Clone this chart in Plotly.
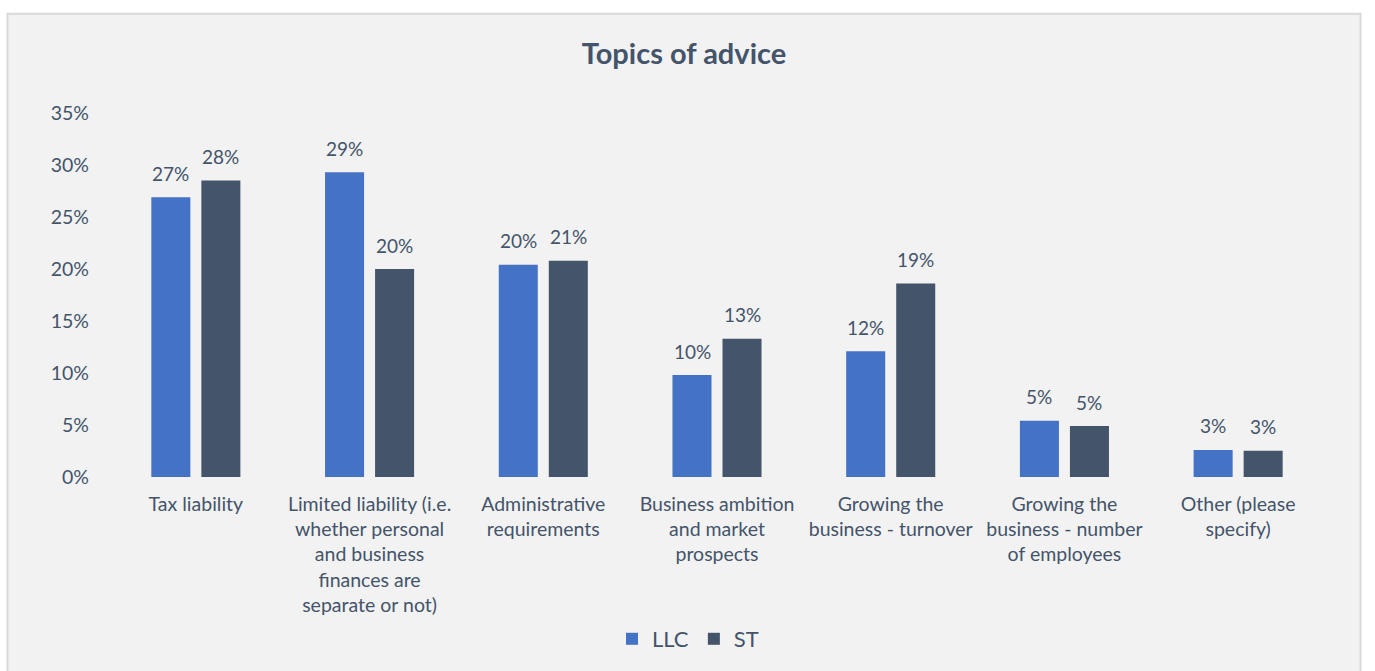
import plotly.graph_objects as go

categories = [
    "Tax liability",
    "Limited liability (i.e.<br>whether personal<br>and business<br>finances are<br>separate or not)",
    "Administrative<br>requirements",
    "Business ambition<br>and market<br>prospects",
    "Growing the<br>business - turnover",
    "Growing the<br>business - number<br>of employees",
    "Other (please<br>specify)",
]
llc = [0.269, 0.293, 0.204, 0.098, 0.121, 0.054, 0.026]
st = [0.285, 0.200, 0.208, 0.133, 0.186, 0.049, 0.0252]
y_ticks = [0, 0.05, 0.10, 0.15, 0.20, 0.25, 0.30, 0.35]

TEXT = "#44546a"
FONT = "Lato"
W, H = 1375, 671
ML, MR, MT, MB = 109, 50, 113, 193
PW, PH = W - ML - MR, H - MT - MB


def px_x(px):
    return (px - ML) / PW


def px_y(py):
    return (H - MB - py) / PH


fig = go.Figure()
fig.add_trace(go.Bar(name="LLC", x=categories, y=llc, marker=dict(color="#4472c4", line=dict(width=0))))
fig.add_trace(go.Bar(name="ST", x=categories, y=st, marker=dict(color="#44546a", line=dict(width=0))))

# value labels above each bar, formatted from the bar values
annotations = []
for series, shift in ((llc, -25), (st, 25)):
    for cat, v in zip(categories, series):
        annotations.append(dict(
            x=cat, y=v, xref="x", yref="y", text=f"{round(v * 100):.0f}%",
            showarrow=False, xshift=shift, yshift=24, yanchor="middle",
            font=dict(family=FONT, size=19, color=TEXT),
        ))

fig.update_layout(
    width=W, height=H,
    margin=dict(l=ML, r=MR, t=MT, b=MB, pad=0),
    paper_bgcolor="white",
    plot_bgcolor="rgba(0,0,0,0)",
    barmode="group", bargap=0.424, bargroupgap=0.22,
    font=dict(family=FONT, size=19.5, color=TEXT),
    title=dict(text="<b>Topics of advice</b>", x=px_x(684), xref="paper", xanchor="center",
               y=1 - 54 / H, yref="container", yanchor="middle",
               font=dict(family=FONT, size=29, color=TEXT)),
    xaxis=dict(showline=False, showgrid=False, ticks="", ticklabelstandoff=13,
               tickfont=dict(family=FONT, size=19.5, color=TEXT)),
    yaxis=dict(range=[0, 0.35], tickvals=y_ticks, tickformat=".0%", showgrid=False,
               showline=False, zeroline=False, ticks="", ticklabelstandoff=19,
               tickfont=dict(family=FONT, size=19.5, color=TEXT)),
    legend=dict(orientation="h", x=px_x(688), xanchor="center", y=px_y(639), yanchor="middle",
                font=dict(family=FONT, size=22, color=TEXT), bgcolor="rgba(0,0,0,0)",
                itemwidth=30, traceorder="normal"),
    annotations=annotations,
    shapes=[dict(type="rect", xref="paper", yref="paper", layer="below",
                 x0=px_x(7.5), x1=px_x(1360.5), y0=px_y(690), y1=px_y(13.5),
                 fillcolor="#f2f2f2", line=dict(color="#d9d9d9", width=2))],
)

fig.write_html("out.html")
